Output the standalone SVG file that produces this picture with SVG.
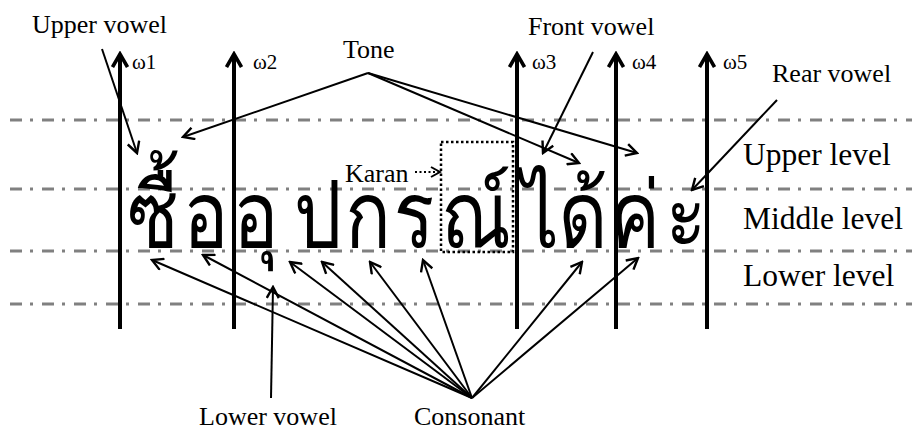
<svg xmlns="http://www.w3.org/2000/svg" width="912" height="430" viewBox="0 0 912 430">
<defs>
<marker id="ah" markerUnits="userSpaceOnUse" markerWidth="14" markerHeight="14" viewBox="0 0 14 14" refX="12" refY="7" orient="auto">
<path d="M1,1 L12,7 L1,13" fill="none" stroke="#000" stroke-width="2.4"/>
</marker>
<marker id="ahb" markerUnits="userSpaceOnUse" markerWidth="18" markerHeight="18" viewBox="0 0 18 18" refX="15" refY="9" orient="auto">
<path d="M2,1.5 L15,9 L2,16.5" fill="none" stroke="#000" stroke-width="3.6"/>
</marker>
<marker id="ahd" markerUnits="userSpaceOnUse" markerWidth="12" markerHeight="12" viewBox="0 0 12 12" refX="10" refY="6" orient="auto">
<path d="M1,1 L10,6 L1,11" fill="none" stroke="#000" stroke-width="2"/>
</marker>
</defs>
<style>
.lvl{stroke:#808080;stroke-width:3;stroke-dasharray:12 8 3 9;fill:none}
.ax{stroke:#000;stroke-width:4;fill:none;marker-end:url(#ahb)}
.cn{stroke:#000;stroke-width:2;fill:none;marker-end:url(#ah)}
.lab{font-size:26px;fill:#000}
.big{font-size:31.5px;fill:#000}
.om{font-size:21px;fill:#000}
.th{font-size:92px;fill:#000;text-anchor:middle}
</style>
<g id="levels">
<line class="lvl" x1="10" y1="120" x2="912" y2="120"/>
<line class="lvl" x1="10" y1="189" x2="912" y2="189"/>
<line class="lvl" x1="10" y1="251" x2="912" y2="251"/>
<line class="lvl" x1="10" y1="304" x2="912" y2="304"/>
</g>
<g id="thai-text" font-family="Loma, Garuda, Waree, 'Noto Sans Thai', sans-serif">
<text class="th" transform="translate(153,247) scale(0.82,1)">ซื้</text>
<text class="th" transform="translate(206,247) scale(0.82,1)">อ</text>
<text class="th" transform="translate(256,247) scale(0.82,1)">อุ</text>
<text class="th" transform="translate(318,247) scale(0.82,1)">ป</text>
<text class="th" transform="translate(368,247) scale(0.82,1)">ก</text>
<text class="th" transform="translate(414,247) scale(0.82,1)">ร</text>
<text class="th" transform="translate(476,247) scale(0.82,1)">ณ์</text>
<text class="th" transform="translate(540,247) scale(0.82,1)">ไ</text>
<text class="th" transform="translate(583,247) scale(0.82,1)">ด้</text>
<text class="th" transform="translate(635,247) scale(0.82,1)">ค่</text>
<text class="th" transform="translate(686,247) scale(0.82,1)">ะ</text>
</g>
<g id="karan-box">
<rect x="441" y="142" width="72" height="110" fill="none" stroke="#000" stroke-width="2.5" stroke-dasharray="2.5 2.5"/>
</g>
<g id="axes">
<line class="ax" x1="120" y1="329" x2="120" y2="54"/>
<line class="ax" x1="234" y1="329" x2="234" y2="54"/>
<line class="ax" x1="517" y1="329" x2="517" y2="54"/>
<line class="ax" x1="616" y1="329" x2="616" y2="54"/>
<line class="ax" x1="707" y1="329" x2="707" y2="54"/>
<g font-family="'Liberation Serif', 'Times New Roman', serif">
<text class="om" x="132" y="69">ω1</text>
<text class="om" x="253" y="69">ω2</text>
<text class="om" x="532" y="69">ω3</text>
<text class="om" x="632" y="69">ω4</text>
<text class="om" x="723" y="69">ω5</text>
</g>
</g>
<g id="connectors">
<line class="cn" x1="102" y1="49" x2="137" y2="153"/>
<line class="cn" x1="368" y1="73" x2="183" y2="137"/>
<line class="cn" x1="368" y1="73" x2="579" y2="163"/>
<line class="cn" x1="368" y1="73" x2="637" y2="153"/>
<line class="cn" x1="593" y1="52" x2="543" y2="153"/>
<line class="cn" x1="777" y1="100" x2="692" y2="190"/>
<line class="cn" x1="271" y1="398" x2="273" y2="287"/>
<line class="cn" x1="472" y1="398" x2="152" y2="260"/>
<line class="cn" x1="472" y1="398" x2="203" y2="255"/>
<line class="cn" x1="472" y1="398" x2="290" y2="262"/>
<line class="cn" x1="472" y1="398" x2="322" y2="262"/>
<line class="cn" x1="472" y1="398" x2="370" y2="262"/>
<line class="cn" x1="472" y1="398" x2="423" y2="260"/>
<line class="cn" x1="472" y1="398" x2="582" y2="262"/>
<line class="cn" x1="472" y1="398" x2="638" y2="258"/>
<line x1="415" y1="172" x2="440" y2="172" stroke="#000" stroke-width="2" stroke-dasharray="2 2.5" marker-end="url(#ahd)"/>
</g>
<g id="labels" font-family="'Liberation Serif', 'Times New Roman', serif">
<text class="lab" x="32" y="33">Upper vowel</text>
<text class="lab" x="343" y="58">Tone</text>
<text class="lab" x="528" y="35">Front vowel</text>
<text class="lab" x="772" y="82">Rear vowel</text>
<text class="lab" x="199" y="425">Lower vowel</text>
<text class="lab" x="414" y="425">Consonant</text>
<text class="lab" x="345" y="182">Karan</text>
<text class="big" x="743" y="165">Upper level</text>
<text class="big" x="743" y="229">Middle level</text>
<text class="big" x="743" y="286">Lower level</text>
</g>
</svg>
